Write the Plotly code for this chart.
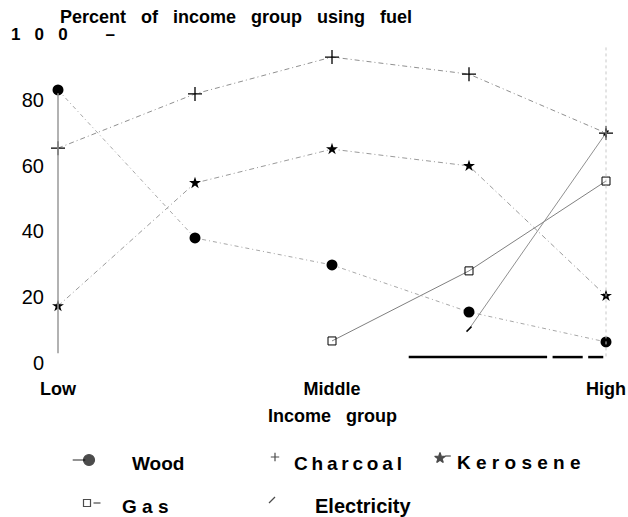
import plotly.graph_objects as go

# ---- data ----
groups = [0, 1, 2, 3, 4]            # income groups, Low .. High
group_ticks = [0, 2, 4]
group_labels = ["Low", "Middle", "High"]

wood = [83, 38, 29.8, 15.5, 6.4]
charcoal = [65.3, 81.8, 93, 87.8, 69.9]
kerosene = [17.3, 54.7, 65, 59.9, 20.4]
gas_groups = [2, 3, 4]
gas = [6.7, 28, 55.3]
elec_groups = [3, 4]
electricity = [10.3, 69.9]

y_ticks = [0, 20, 40, 60, 80]

W, H = 628, 517
FONT = "Liberation Sans, Arial, sans-serif"
NB = "\u00a0"

def fx(px):   # pixel x -> paper fraction
    return px / W

def fy(py):   # pixel y -> paper fraction
    return (H - py) / H

fig = go.Figure()

def add(xs, ys, name, color, dash, marker):
    fig.add_trace(go.Scatter(
        x=xs, y=ys, name=name, mode="lines+markers",
        line=dict(color=color, width=1, dash=dash),
        marker=marker, cliponaxis=False, showlegend=False))

add(groups, wood, "Wood", "#a8a8a8", "4px,3px,1px,3px",
    dict(symbol="circle", size=11, color="black"))
add(groups, charcoal, "Charcoal", "#909090", "5px,3px,1px,3px",
    dict(symbol="cross-thin", size=10, color="black", line=dict(color="black", width=1.3)))
add(groups, kerosene, "Kerosene", "#9a9a9a", "5px,3px,1px,3px",
    dict(symbol="star", size=9, color="black"))
add(gas_groups, gas, "Gas", "#808080", "solid",
    dict(symbol="square-open", size=8, color="black", line=dict(color="black", width=1)))
add(elec_groups, electricity, "Electricity", "#909090", "solid",
    dict(symbol="line-ne", size=5, color="black", line=dict(color="black", width=1.5)))

# ---- legend keys drawn on a full-canvas pixel axis ----
key_x = [79, 89, 275, 440, 448, 87, 97, 272]
key_y = [460, 460, 457, 458, 456, 503, 503, 500]
key_sym = ["line-ew", "circle", "cross-thin", "star", "line-ew", "square-open", "line-ew", "line-ne"]
key_size = [9, 11, 6, 8, 4, 7, 5, 6]
fig.add_trace(go.Scatter(
    x=key_x, y=key_y, mode="markers", xaxis="x2", yaxis="y2",
    marker=dict(symbol=key_sym, size=key_size, color="black",
                line=dict(color="black", width=1.2)),
    cliponaxis=False, showlegend=False, hoverinfo="skip"))

# plot area in pixels
L, R, T, B = 50, 614, 30, 370
x0px, x4px = 58, 606
pxu = (x4px - x0px) / 4
y0px = 363
pyu = 3.29

fig.update_layout(
    width=W, height=H, margin=dict(l=0, r=0, t=0, b=0, autoexpand=False),
    paper_bgcolor="white", plot_bgcolor="rgba(0,0,0,0)", showlegend=False,
    font=dict(family=FONT, color="black"),
    xaxis=dict(domain=[fx(L), fx(R)], anchor="y", automargin=False,
               range=[-(x0px - L) / pxu, 4 + (R - x4px) / pxu],
               tickvals=group_ticks,
               ticktext=[f"<b>{t}</b>" for t in group_labels],
               tickfont=dict(size=18, family=FONT),
               showgrid=False, zeroline=False, showline=False, ticks="",
               ticklabelstandoff=6),
    yaxis=dict(domain=[fy(B), fy(T)], anchor="x", automargin=False,
               range=[-(B - y0px) / pyu, (y0px - T) / pyu],
               tickvals=y_ticks, ticktext=[str(v) for v in y_ticks],
               tickfont=dict(size=20, family=FONT),
               showgrid=False, zeroline=False, showline=False, ticks="",
               ticklabelstandoff=5),
    xaxis2=dict(domain=[0, 1], range=[0, W], visible=False, anchor="y2",
                automargin=False),
    yaxis2=dict(domain=[0, 1], range=[H, 0], visible=False, anchor="x2",
                automargin=False),
)

# axis remnants (scan look)
fig.add_shape(type="line", xref="x", yref="y", x0=0, x1=0, y0=3, y1=82,
              line=dict(color="#999999", width=1.5))
fig.add_shape(type="line", xref="x", yref="y", x0=4, x1=4, y0=2, y1=96,
              line=dict(color="#c8c8c8", width=1, dash="dot"))
for a, b in [(2.56, 3.57), (3.61, 3.83), (3.87, 3.98)]:
    fig.add_shape(type="line", xref="x", yref="y", x0=a, x1=b, y0=1.8, y1=1.8,
                  line=dict(color="black", width=2.5))

def ann(text, px, py, size, xanchor="left", bold=True):
    fig.add_annotation(text=f"<b>{text}</b>" if bold else text,
                       x=fx(px), y=fy(py), xref="paper", yref="paper",
                       xanchor=xanchor, yanchor="middle", showarrow=False,
                       font=dict(size=size, family=FONT, color="black"))

sp3 = NB * 3
ann(sp3.join(["Percent", "of", "income", "group", "using", "fuel"]), 58, 17, 18)
ann(sp3.join(["1", "0", "0"]) + NB * 8 + "\u2013", 9, 35, 17)
ann("Income" + sp3 + "group", 332, 416, 18, xanchor="center")

TS = "\u2009"
ann("Wood", 130, 463, 19)
ann(TS.join("Charcoal"), 292, 463, 19)
ann(NB.join("Kerosene"), 455, 462, 19)
ann(NB.join("Gas"), 120, 506, 19)
ann("Electricity", 313, 506, 20)

# remove the browser's default page margin so the figure sits at (0, 0)
fig.write_html("out.html",
               config={"displayModeBar": False, "staticPlot": True},
               post_script="document.body.style.margin='0';"
                           "document.body.style.overflow='hidden';")
